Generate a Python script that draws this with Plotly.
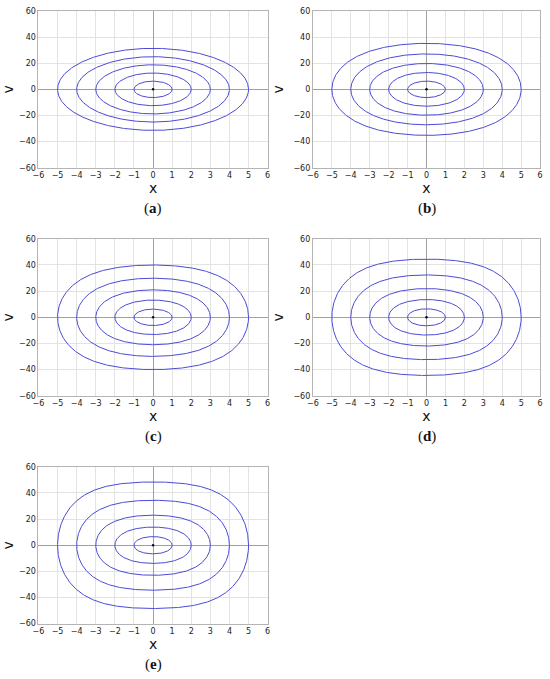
import numpy as np
import plotly.graph_objects as go

# Values
panel_labels = ["a", "b", "c", "d", "e"]
amplitudes = [1, 2, 3, 4, 5]          # turning points on the x axis
vmax_a = [6.3, 12.5, 18.8, 25.0, 31.4]  # peak v at x = 0 for each orbit
vmax_b = [6.3, 12.9, 19.8, 27.1, 35.2]
vmax_c = [6.3, 13.2, 21.0, 29.9, 40.0]
vmax_d = [6.5, 13.6, 22.0, 32.4, 44.5]
vmax_e = [6.6, 13.9, 23.0, 34.4, 48.4]
vmax_all = [vmax_a, vmax_b, vmax_c, vmax_d, vmax_e]
x_ticks = [-6, -5, -4, -3, -2, -1, 0, 1, 2, 3, 4, 5, 6]
v_ticks = [-60, -40, -20, 0, 20, 40, 60]

W, H = 550, 679
omega = 2 * np.pi

# panel rectangles in pixels: left, right, top, bottom
rects = [
    (33, 266, 7, 166),
    (312, 543, 7, 166),
    (33, 266, 238, 397),
    (312, 543, 238, 397),
    (33, 266, 469, 628),
]

fig = go.Figure()
line_col = "#4b4bd6"

for i, (lab, vm) in enumerate(zip(panel_labels, vmax_all)):
    n = i + 1
    xa = "x" if n == 1 else f"x{n}"
    ya = "y" if n == 1 else f"y{n}"
    for A, v0 in zip(amplitudes, vm):
        c = (v0 ** 2 - omega ** 2 * A ** 2) / A ** 4
        th = np.linspace(0, 2 * np.pi, 721)
        xs = A * np.cos(th)
        v2 = v0 ** 2 - omega ** 2 * xs ** 2 - c * xs ** 4
        vs = np.sign(np.sin(th)) * np.sqrt(np.clip(v2, 0, None))
        fig.add_trace(go.Scatter(x=xs, y=vs, mode="lines",
                                 line=dict(color=line_col, width=1),
                                 xaxis=xa, yaxis=ya, showlegend=False,
                                 hoverinfo="skip"))
    fig.add_trace(go.Scatter(x=[0], y=[0], mode="markers",
                             marker=dict(color="#000033", size=2.5),
                             xaxis=xa, yaxis=ya, showlegend=False,
                             hoverinfo="skip"))

    l, r, t, b = rects[i]
    xdom = [l / W, r / W]
    ydom = [1 - b / H, 1 - t / H]
    common = dict(showgrid=True, gridcolor="#e3e3e3", gridwidth=1,
                  zeroline=True, zerolinecolor="#a0a0a0", zerolinewidth=1,
                  showline=True, linecolor="#b4b4b4", linewidth=1, mirror=True,
                  ticks="", 
                  tickfont=dict(family="DejaVu Sans", size=8, color="#222222"),
                  fixedrange=True)
    fig.layout[f"xaxis{'' if n == 1 else n}"] = dict(
        domain=xdom, anchor=ya, range=[-6, 6], tickvals=x_ticks,
        ticktext=[str(t).replace("-", "\u2212") for t in x_ticks],
        title=dict(text="x", font=dict(family="DejaVu Sans", size=14, color="#111"), standoff=0),
        **common)
    fig.layout[f"yaxis{'' if n == 1 else n}"] = dict(
        domain=ydom, anchor=xa, range=[-60, 60], tickvals=v_ticks,
        ticktext=[str(t).replace("-", "\u2212") for t in v_ticks],
        title=dict(text="v", font=dict(family="DejaVu Sans", size=14, color="#111"), standoff=6),
        **common)
    fig.add_annotation(text=f"(<b>{lab}</b>)", xref="paper", yref="paper",
                       x=(l + r) / 2 / W - 0.0, y=1 - (b + 41) / H,
                       showarrow=False, xanchor="center", yanchor="middle",
                       font=dict(family="Liberation Serif", size=15, color="#111"))

fig.update_layout(width=W, height=H, margin=dict(l=0, r=0, t=0, b=0),
                  paper_bgcolor="white", plot_bgcolor="white")
fig.write_html("out.html", config={"displayModeBar": False},
               post_script="document.body.style.margin='0';document.body.style.overflow='hidden';")
